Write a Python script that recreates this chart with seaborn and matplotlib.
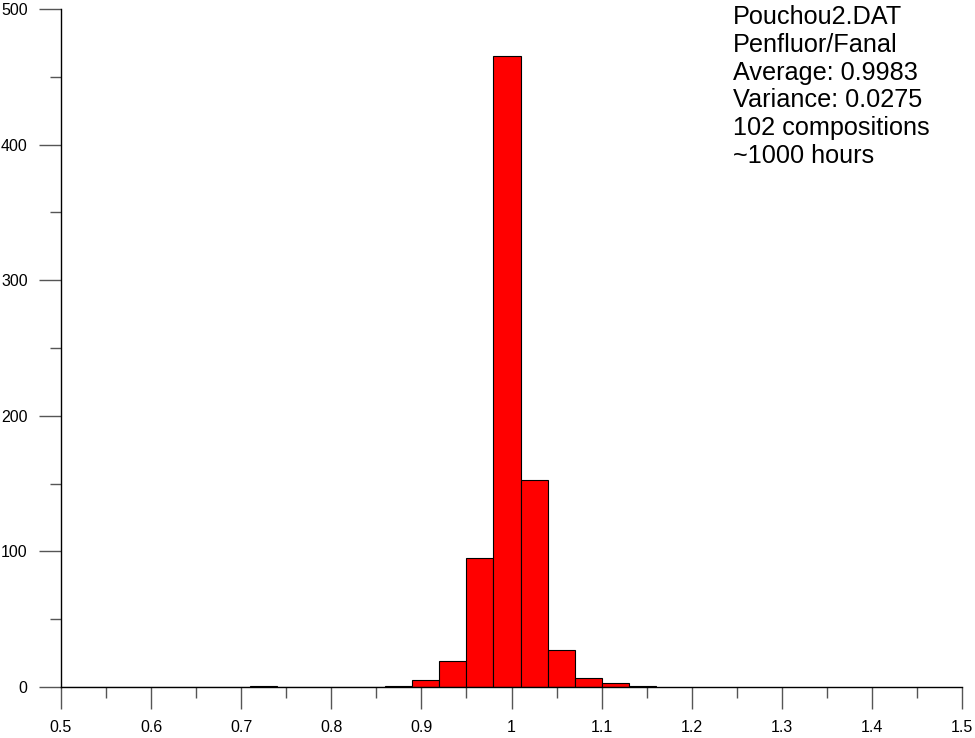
"""Histogram of Penfluor/Fanal ratios (Pouchou2.DAT)."""

import numpy as np
import pandas as pd
import matplotlib
matplotlib.use("Agg")
import matplotlib.pyplot as plt
import seaborn as sns
from matplotlib.ticker import MultipleLocator

# Bin left edges (width 0.03) and counts
bin_left = [0.71, 0.86, 0.89, 0.92, 0.95, 0.98, 1.01, 1.04, 1.07, 1.10, 1.13]
counts = [1, 1, 5, 19, 95, 465, 153, 27, 7, 3, 1]
bin_width = 0.03
bin_start = 0.50
bin_stop = 1.16

x_ticks = [0.5, 0.6, 0.7, 0.8, 0.9, 1.0, 1.1, 1.2, 1.3, 1.4, 1.5]
x_tick_labels = ["0.5", "0.6", "0.7", "0.8", "0.9", "1", "1.1", "1.2", "1.3", "1.4", "1.5"]
y_ticks = [0, 100, 200, 300, 400, 500]

info_lines = [
    "Pouchou2.DAT",
    "Penfluor/Fanal",
    "Average: 0.9983",
    "Variance: 0.0275",
    "102 compositions",
    "~1000 hours",
]

sns.set_style("ticks")
plt.rcParams["font.family"] = ["Liberation Sans", "DejaVu Sans"]

df = pd.DataFrame({"ratio": np.array(bin_left) + bin_width / 2, "count": counts})

fig = plt.figure(figsize=(9.75, 7.38), dpi=100)
ax = fig.add_axes([61 / 975, 1 - 687 / 738, (962 - 61) / 975, (687 - 9) / 738])

edges = [round(v, 4) for v in np.arange(bin_start, bin_stop + bin_width / 2, bin_width)]
sns.histplot(
    data=df,
    x="ratio",
    weights="count",
    bins=edges,
    stat="count",
    color="#ff0000",
    edgecolor="black",
    linewidth=0.8,
    alpha=1.0,
    ax=ax,
)

ax.set_xlim(0.5, 1.5)
ax.set_ylim(0, 500)
ax.set_xticks(x_ticks)
ax.set_xticklabels(x_tick_labels)
ax.set_yticks(y_ticks)
ax.xaxis.set_minor_locator(MultipleLocator(0.05))
ax.yaxis.set_minor_locator(MultipleLocator(50))
ax.set_xlabel("")
ax.set_ylabel("")

sns.despine(ax=ax)
for side in ["left", "bottom"]:
    ax.spines[side].set_color("black")
    ax.spines[side].set_linewidth(1.0)

# tick lengths in points: ~22 px major, ~11 px minor at 100 dpi
ax.tick_params(which="major", length=16, width=1, color="#555555",
               labelsize=11.5, labelcolor="black", pad=8)
ax.tick_params(which="minor", length=8, width=1, color="#555555")

ax.text(733 / 975, 1 - 5 / 738, "\n".join(info_lines), transform=fig.transFigure,
        ha="left", va="top", fontsize=18.2, linespacing=1.2, color="black")

fig.savefig("out.png", dpi=100)
